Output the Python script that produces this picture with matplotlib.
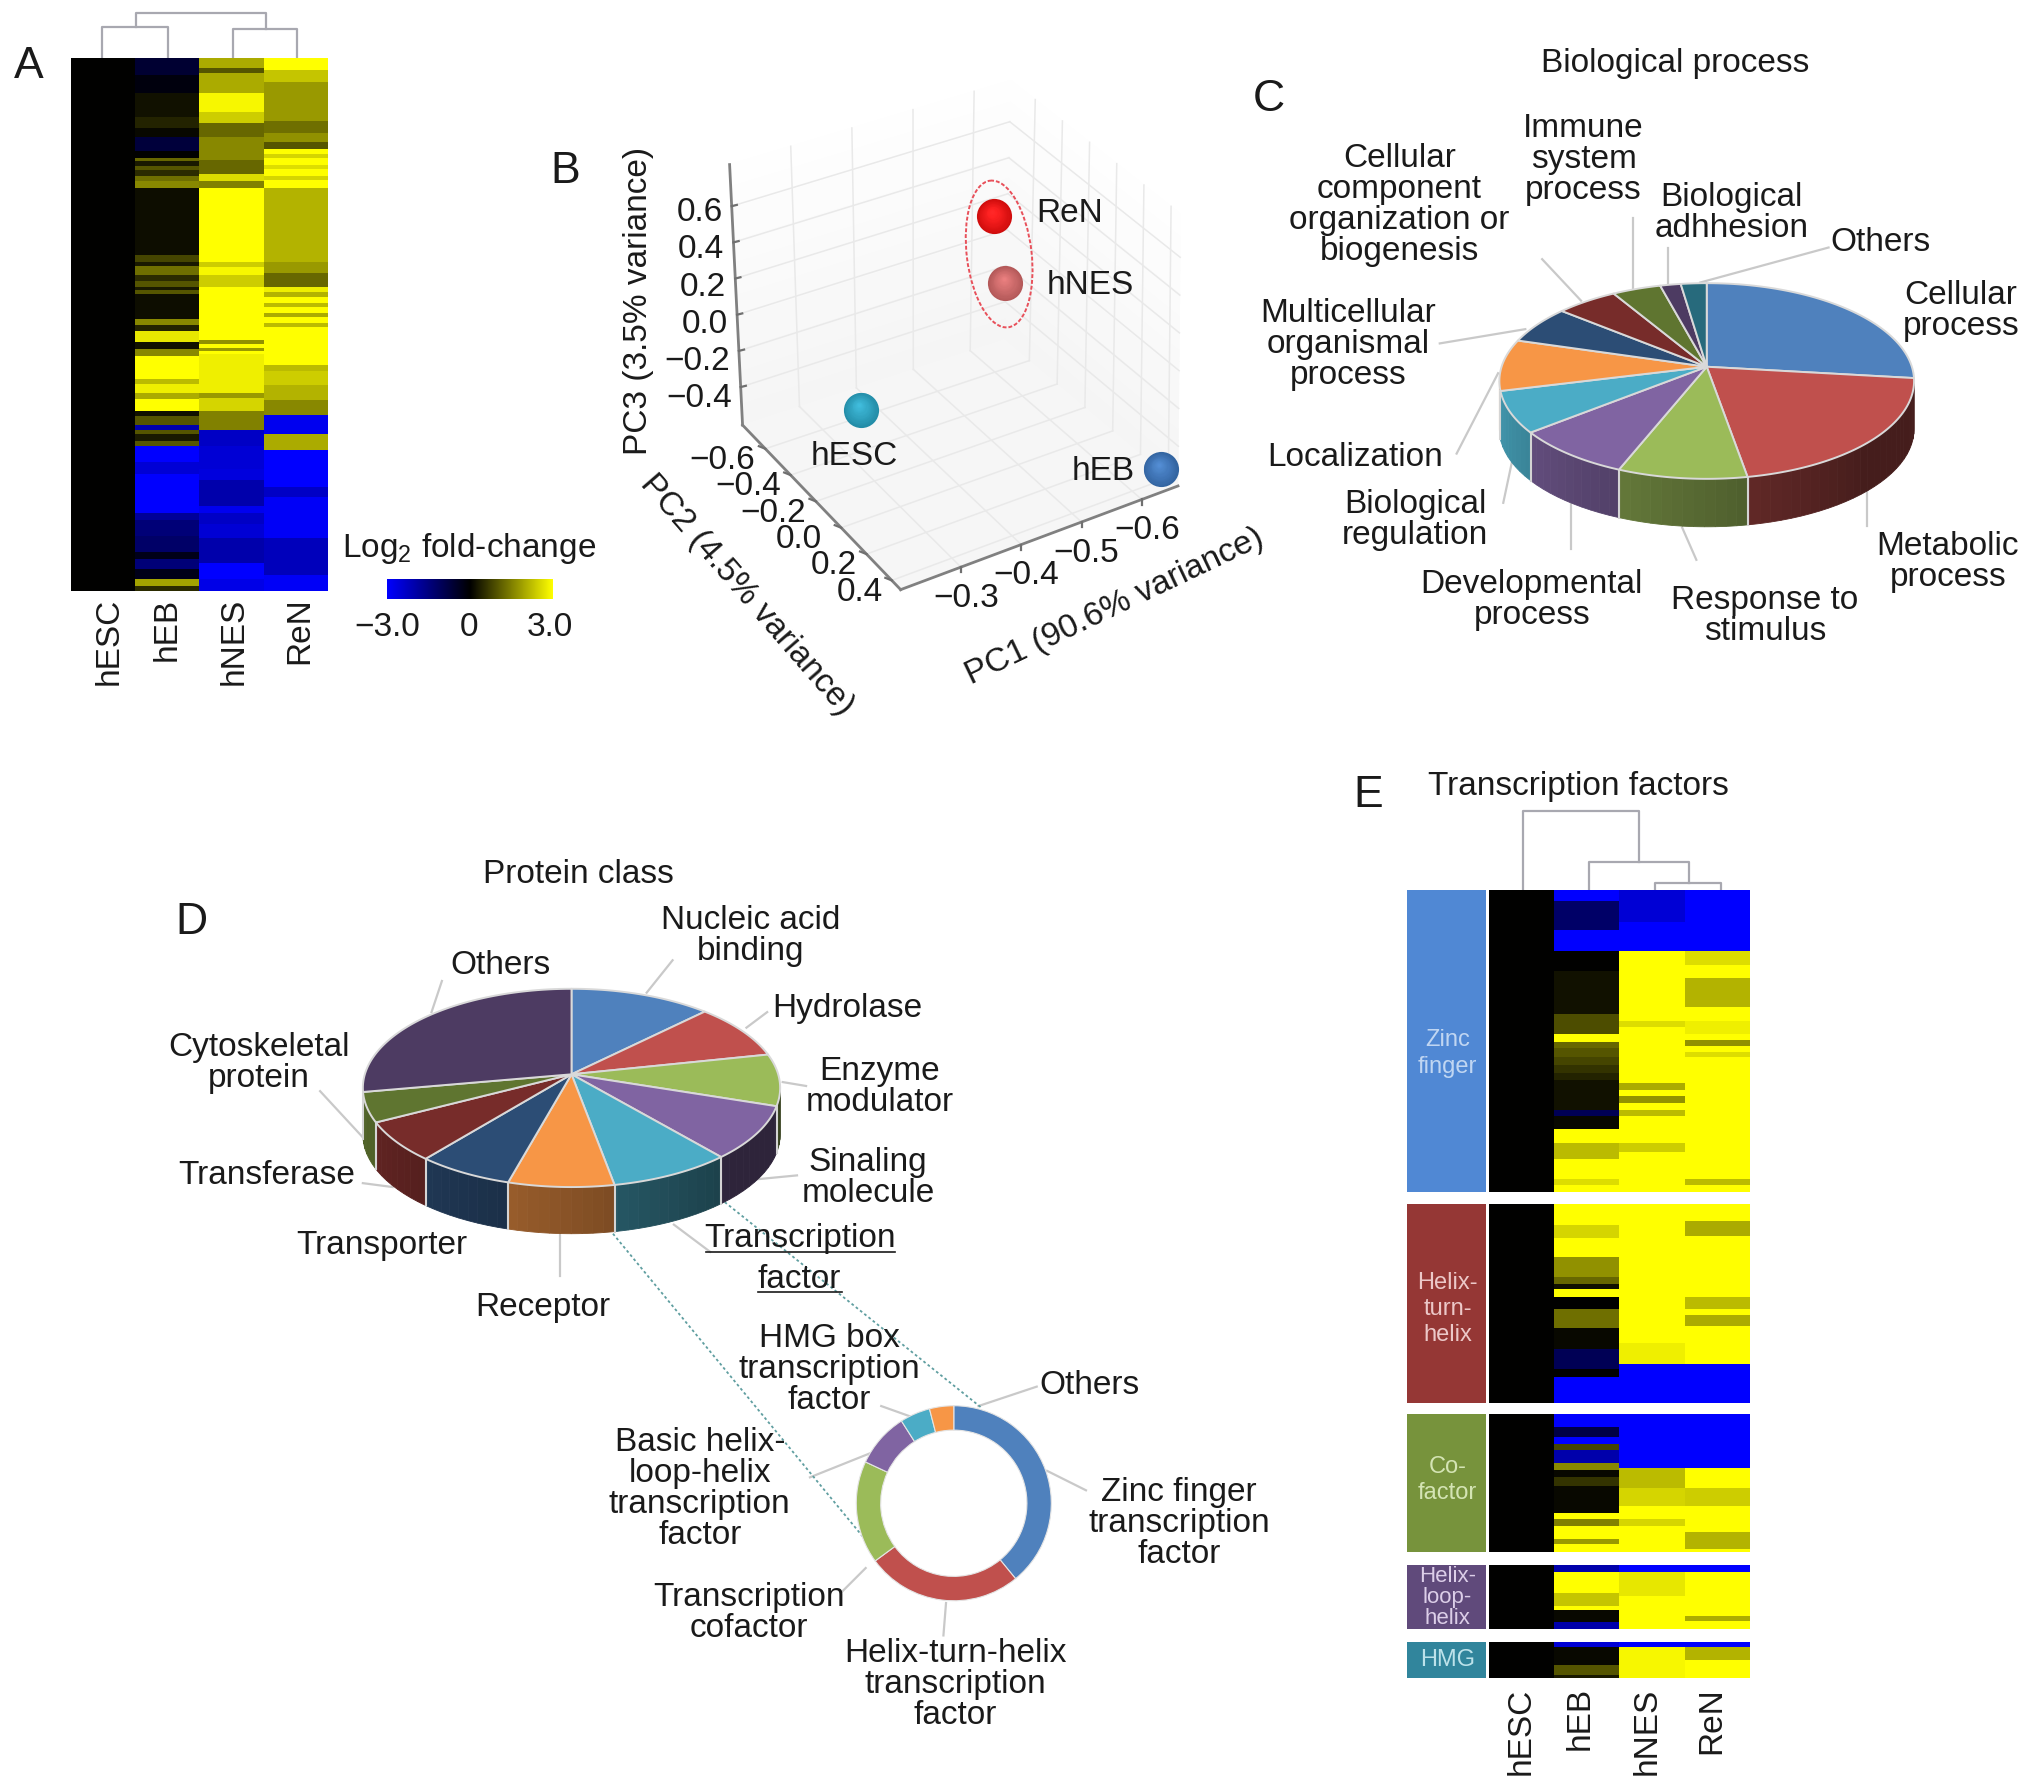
import numpy as np
import matplotlib
matplotlib.use("Agg")
import matplotlib.pyplot as plt
from matplotlib.colors import LinearSegmentedColormap, to_rgb
from matplotlib.patches import Ellipse

plt.rcParams['font.family'] = ['Liberation Sans', 'DejaVu Sans']
plt.rcParams['mathtext.fontset'] = 'custom'
plt.rcParams['mathtext.rm'] = 'Liberation Sans'
plt.rcParams['mathtext.default'] = 'regular'

W, H = 1568, 1380.5
FS = 24

samples = ["hESC", "hEB", "hNES", "ReN"]

# panel A heatmap, runs of (rows, log2 fold change)
a_hesc = [(1157, 0)]
a_heb = [(37, -0.6), (40, -0.15), (50, 0.2), (25, 0.4), (20, 0.1), (30, -0.7), (15, 0), (7, 1.2), (10, 0.3),
         (10, 1.0), (13, 0.5), (10, 1.3), (15, 1.6), (145, 0.15), (15, 0.8), (10, 0.3), (20, 1.3), (12, 0.5),
         (13, 1.0), (7, 0.3), (8, 1.0), (55, 0.15), (13, 1.6), (12, 0.4), (25, 2.7), (15, 0.2), (15, 1.6),
         (50, 3), (10, 2.2), (20, 2.8), (13, 2.0), (27, 3), (10, 0.2), (20, 1.0), (10, -2), (10, 1.0), (15, 0.3),
         (10, 1.0), (35, -3), (25, -2.5), (85, -3), (15, -1.8), (35, -1.4), (35, -1.2), (15, -0.3), (23, -1.4),
         (22, -0.3), (15, 1.9), (10, 0.5)]
a_hnes = [(22, 2.0), (10, 1.0), (45, 2.0), (40, 2.9), (25, 2.4), (30, 1.2), (50, 1.6), (30, 1.2), (15, 2.6),
          (15, 1.5), (160, 3), (12, 2.4), (18, 2.9), (25, 2.4), (115, 3), (8, 1.7), (10, 3), (7, 1.8), (5, 3),
          (85, 2.8), (12, 1.8), (28, 2.5), (40, 1.5), (35, -2.3), (50, -2.5), (25, -2.6), (55, -2.0), (15, -2.8),
          (25, -2.3), (30, -2.5), (55, -2.0), (35, -3), (25, -2.7)]
a_ren = [(27, 3), (25, 2.3), (85, 1.8), (25, 1.3), (20, 1.7), (15, 1.0), (12, 3), (8, 2.5), (15, 3), (10, 2.6),
         (15, 3), (8, 2.5), (17, 3), (160, 2.1), (25, 1.8), (30, 1.2), (10, 2.8), (12, 2.1), (12, 3), (10, 2.2),
         (12, 3), (10, 2.0), (12, 3), (8, 2.2), (19, 3), (65, 3), (12, 2.2), (30, 2.4), (33, 2.1), (32, 1.6),
         (43, -2.8), (35, 2.0), (80, -3), (20, -2.3), (90, -2.9), (80, -2.2), (45, -2.9)]

# panel E heatmap groups
e_groups = ["Zinc\nfinger", "Helix-\nturn-\nhelix", "Co-\nfactor", "Helix-\nloop-\nhelix", "HMG"]
e_group_colors = ["#5088d4", "#953735", "#77933c", "#604a7b", "#31859c"]
e_text_colors = ["#c0d6f2", "#ecc8c8", "#d4e4b4", "#dccee8", "#bce2ea"]
e_rows = [458, 305, 212, 97, 57]
e_heb = [
    [(16, -3), (44, -1.2), (33, -3), (30, 0), (65, 0.2), (30, 0.9), (12, 3), (10, 1.2), (14, 1.0), (12, 0.8), (12, 0.6),
     (10, 0.4), (45, 0.2), (10, -1), (20, 0.1), (20, 3), (25, 2.2), (30, 3), (10, 2.6), (10, 3)],
    [(33, 3), (20, 2.5), (30, 3), (30, 1.7), (10, 1.2), (8, 0.2), (12, 3), (18, 0), (30, 1.3), (32, 0.1),
     (30, -1), (12, 0), (40, -3)],
    [(22, -3), (15, -0.8), (10, -3), (10, 0.8), (20, -2), (10, 1.6), (10, 0.1), (15, 0.6), (40, 0.1), (10, 3),
     (10, 1.5), (20, 3), (8, 1.8), (12, 3)],
    [(10, -2), (32, 3), (20, 2.3), (6, 3), (19, 0.1), (10, -2)],
    [(10, -2.5), (27, 0.1), (15, 1.0), (5, 0.3)],
]
e_hnes = [
    [(48, -2.5), (45, -3), (105, 3), (10, 2.6), (85, 3), (10, 2.0), (10, 3), (10, 1.7), (10, 3), (10, 2.2),
     (40, 3), (15, 2.4), (60, 3)],
    [(213, 3), (32, 2.8), (60, -3)],
    [(84, -3), (30, 2.2), (28, 2.5), (20, 3), (10, 2.5), (40, 3)],
    [(10, -3), (37, 2.7), (50, 3)],
    [(10, -3), (47, 2.9)],
]
e_ren = [
    [(93, -3), (20, 2.6), (20, 3), (45, 2.1), (20, 3), (20, 2.8), (10, 3), (8, 1.7), (10, 3), (7, 2.6), (185, 3),
     (10, 2.2), (10, 3)],
    [(28, 3), (23, 2.0), (92, 3), (18, 2.2), (10, 3), (17, 2.0), (57, 3), (60, -3)],
    [(84, -3), (30, 3), (28, 2.4), (40, 3), (25, 2.1), (5, 3)],
    [(10, -3), (67, 3), (8, 2.0), (12, 3)],
    [(10, -3), (19, 2.1), (28, 3)],
]

# pies
bio_names = ["Cellular process", "Metabolic process", "Response to stimulus", "Developmental process",
             "Biological regulation", "Localization", "Multicellular organismal process",
             "Cellular component organization or biogenesis", "Immune system process", "Biological adhhesion",
             "Others"]
bio_share = [24.5, 22.3, 10.1, 9.2, 7.2, 8.4, 5.9, 4.9, 3.8, 1.6, 2.0]
bio_colors = ["#4f81bd", "#c0504d", "#9bbb59", "#8064a2", "#4bacc6", "#f79646", "#2c4d75", "#772c2a", "#5f7530",
              "#4d3b62", "#276a7c"]
prot_names = ["Nucleic acid binding", "Hydrolase", "Enzyme modulator", "Sinaling molecule", "Transcription factor",
              "Receptor", "Transporter", "Transferase", "Cytoskeletal protein", "Others"]
prot_share = [11.0, 8.5, 8.4, 9.3, 9.4, 8.2, 7.4, 7.0, 5.0, 25.6]
prot_colors = ["#4f81bd", "#c0504d", "#9bbb59", "#8064a2", "#4bacc6", "#f79646", "#2c4d75", "#772c2a", "#5f7530",
               "#4d3b62"]
tf_share = [39.0, 25.8, 17.0, 9.0, 5.0, 4.0]
tf_colors = ["#4f81bd", "#c0504d", "#9bbb59", "#8064a2", "#4bacc6", "#f79646"]

# PCA scores, (PC1, PC2, PC3)
pca_names = ["ReN", "hNES", "hESC", "hEB"]
pca_points = [(-0.533, -0.335, 0.475), (-0.510, -0.148, 0.25), (-0.30, -0.30, -0.30), (-0.647, 0.40, -0.55)]
pca_colors = ["#f81010", "#d66a6a", "#2aa8c8", "#3d78c0"]
pc1_ticks = [-0.3, -0.4, -0.5, -0.6]
pc2_ticks = [-0.6, -0.4, -0.2, 0.0, 0.2, 0.4]
pc3_ticks = [0.6, 0.4, 0.2, 0.0, -0.2, -0.4]

cmap = LinearSegmentedColormap.from_list("byk", ["#0000ff", "#000000", "#ffff00"])

fig = plt.figure(figsize=(20.32, 17.89), dpi=100)
ax = fig.add_axes([0, 0, 1, 1])
ax.set_xlim(0, W)
ax.set_ylim(H, 0)
ax.axis("off")


def sub_axes(x0, y0, x1, y1):
    a = fig.add_axes([x0 / W, 1 - y1 / H, (x1 - x0) / W, (y1 - y0) / H])
    a.axis("off")
    return a


def expand(runs, n):
    col = np.concatenate([np.full(c, v, dtype=float) for c, v in runs])
    if len(col) < n:
        col = np.concatenate([col, np.full(n - len(col), col[-1])])
    return col[:n]


def heat(box, cols, n):
    a = sub_axes(*box)
    m = np.column_stack([expand(c, n) for c in cols])
    a.imshow(m, aspect="auto", cmap=cmap, vmin=-3, vmax=3, interpolation="nearest")


def label(x, y, s, size=FS, **kw):
    kw.setdefault("ha", "center")
    kw.setdefault("va", "center")
    kw.setdefault("linespacing", 1.0)
    kw.setdefault("color", "#1a1a1a")
    if kw["va"] == "center":
        y = y + 4
    return ax.text(x, y, s, fontsize=size, **kw)


def leader(x0, y0, x1, y1):
    ax.plot([x0, x1], [y0, y1], color="#c9c9c9", lw=1.6, zorder=1)


def bracket(x0, x1, top, y0, y1):
    ax.plot([x0, x0, x1, x1], [y0, top, top, y1], color="#a8a8b0", lw=1.6)


def side_shade(t):
    return np.interp(t, [130, 260], [0.36, 0.85])


def pie3d(shares, colors, cx, cy, apex, a, b, depth):
    edges = np.cumsum([0] + list(shares)) / sum(shares) * 360
    px = lambda t: cx + a * np.sin(np.radians(t))
    py = lambda t: cy - b * np.cos(np.radians(t))
    # side first, then top
    for i, c in enumerate(colors):
        t0, t1 = max(edges[i], 90), min(edges[i + 1], 270)
        if t1 <= t0:
            continue
        steps = np.arange(t0, t1, 3.0)
        steps = np.append(steps, t1)
        for s0, s1 in zip(steps[:-1], steps[1:]):
            ts = np.linspace(s0, s1, 4)
            col = np.array(to_rgb(c)) * side_shade((s0 + s1) / 2)
            ax.fill(np.r_[px(ts), px(ts[::-1])], np.r_[py(ts), py(ts[::-1]) + depth], color=col, lw=0.6, zorder=2)
    for e in edges:
        if 90 < e < 270:
            ax.plot([px(e), px(e)], [py(e), py(e) + depth], color="#d4d4d4", lw=1.5, zorder=3)
    for i, c in enumerate(colors):
        ts = np.linspace(edges[i], edges[i + 1], 60)
        ax.fill(np.r_[cx, px(ts)], np.r_[apex, py(ts)], facecolor=c, edgecolor="#d9d9d9", lw=1.4, zorder=4,
                joinstyle="round")


# ---------- A
bracket(79, 130, 21, 45, 45)
bracket(180, 229, 22, 45, 45)
bracket(105, 205, 10, 21, 22)
heat((55, 45, 253, 456), [a_hesc, a_heb, a_hnes, a_ren], 1157)
for x, s in zip([84, 129, 181, 231], samples):
    label(x, 461, s, rotation=90, va="top")
label(22, 47, "A", size=32)
label(362, 419, r"Log$_2$ fold-change")
cb = sub_axes(299, 447, 427, 462)
cb.imshow(np.linspace(-3, 3, 256)[None, :], aspect="auto", cmap=cmap, vmin=-3, vmax=3)
for x, s in zip([299, 362, 424], ["\u22123.0", "0", "3.0"]):
    label(x, 480, s)

# ---------- B
label(436, 128, "B", size=32)
floor = {"fr": (695, 455), "rt": (909, 375), "bk": (775, 262), "lf": (573, 328)}
roof = {"fr": (699, 228), "rt": (911, 165), "bk": (780, 62), "lf": (563, 127)}
pc1_lim = (-0.2, -0.66)
pc2_lim = (-0.78, 0.47)
pc3_lim = (-0.61, 0.83)


def project(p1, p2, p3):
    u = (p1 - pc1_lim[0]) / (pc1_lim[1] - pc1_lim[0])
    v = (p2 - pc2_lim[0]) / (pc2_lim[1] - pc2_lim[0])
    w = (p3 - pc3_lim[0]) / (pc3_lim[1] - pc3_lim[0])
    out = []
    for k in (0, 1):
        lo = (1 - u) * (v * floor["fr"][k] + (1 - v) * floor["lf"][k]) + u * (v * floor["rt"][k] + (1 - v) * floor["bk"][k])
        hi = (1 - u) * (v * roof["fr"][k] + (1 - v) * roof["lf"][k]) + u * (v * roof["rt"][k] + (1 - v) * roof["bk"][k])
        out.append((1 - w) * lo + w * hi)
    return out


def plane_line(a, b, n=2):
    pts = [project(*(np.array(a) + (np.array(b) - np.array(a)) * t)) for t in np.linspace(0, 1, n)]
    return [p[0] for p in pts], [p[1] for p in pts]


p1a, p1b = pc1_lim
p2a, p2b = pc2_lim
p3a, p3b = pc3_lim
# walls fade out to white at the top
zs = np.linspace(p3a, p3b, 25)
for z0, z1 in zip(zs[:-1], zs[1:]):
    g = np.interp((z0 - p3a) / (p3b - p3a), [0, 1], [0.96, 0.998])
    for a0, a1 in [((p1a, p2a), (p1b, p2a)), ((p1b, p2a), (p1b, p2b))]:
        q = [project(a0[0], a0[1], z0), project(a1[0], a1[1], z0), project(a1[0], a1[1], z1), project(a0[0], a0[1], z1)]
        ax.fill([c[0] for c in q], [c[1] for c in q], color=(g, g, g), lw=0.4, zorder=0)
q = [project(p1a, p2a, p3a), project(p1b, p2a, p3a), project(p1b, p2b, p3a), project(p1a, p2b, p3a)]
ax.fill([c[0] for c in q], [c[1] for c in q], color="#f6f6f6", lw=0, zorder=0)
grid = dict(color="#e9e9e9", lw=1.1, zorder=0.5)
for t in pc1_ticks:
    ax.plot(*plane_line((t, p2a, p3a), (t, p2b, p3a)), **grid)
    ax.plot(*plane_line((t, p2a, p3a), (t, p2a, p3b)), **grid)
for t in pc2_ticks:
    ax.plot(*plane_line((p1a, t, p3a), (p1b, t, p3a)), **grid)
    ax.plot(*plane_line((p1b, t, p3a), (p1b, t, p3b)), **grid)
for t in pc3_ticks:
    ax.plot(*plane_line((p1a, p2a, t), (p1b, p2a, t)), **grid)
    ax.plot(*plane_line((p1b, p2a, t), (p1b, p2b, t)), **grid)
spine = dict(color="#808080", lw=2.0, zorder=1)
ax.plot(*plane_line((p1a, p2a, p3a), (p1a, p2a, p3b)), **spine)
ax.plot(*plane_line((p1a, p2a, p3a), (p1a, p2b, p3a)), **spine)
ax.plot(*plane_line((p1a, p2b, p3a), (p1b, p2b, p3a)), **spine)
for t in pc3_ticks:
    x, y = project(p1a, p2a, t)
    ax.plot([x, x + 4], [y, y - 1], color="#707070", lw=1.6)
    label(x - 7, y + 1 + (0.6 - t) * 4, f"{t:.1f}".replace("-", "\u2212"), ha="right")
for t in pc2_ticks:
    x, y = project(p1a, t, p3a)
    ax.plot([x, x - 5], [y, y - 2], color="#707070", lw=1.6)
    dx = -25 if t > 0.1 else -33
    label(x + dx, y + 5, f"{t:.1f}".replace("-", "\u2212"))
for t in pc1_ticks:
    x, y = project(t, p2b, p3a)
    ax.plot([x, x], [y, y + 4], color="#707070", lw=1.6)
    label(x + 4, y + 20, f"{t:.1f}".replace("-", "\u2212"))
label(493, 228, "PC3 (3.5% variance)", rotation=90)
label(576, 455, "PC2 (4.5% variance)", rotation=-49, rotation_mode="anchor")
label(860, 464, "PC1 (90.6% variance)", rotation=25.5, rotation_mode="anchor")
ax.add_patch(Ellipse((771, 196), 50, 114, angle=-7, fill=False, ec="#e8505a", lw=1.4, ls=(0, (2, 1)), zorder=5))
for p, c in zip(pca_points, pca_colors):
    x, y = project(*p)
    base = np.array(to_rgb(c))
    for f in np.linspace(1, 0.1, 14):
        col = np.clip(base * (0.84 + 0.16 * (1 - f)) + (1 - f) * 0.10, 0, 1)
        ax.scatter(x - (1 - f) * 1.5, y - (1 - f) * 4, s=640 * f ** 2, color=col, lw=0, zorder=6)
for s, (x, y) in zip(pca_names, [(825, 161), (841, 216), (659, 348), (851, 360)]):
    label(x, y, s)

# ---------- C
label(979, 73, "C", size=32)
label(1293, 45, "Biological process")
pie3d(bio_share, bio_colors, 1317, 294, 283, 160, 75.5, 37)
c_labels = [(1080, 154, "Cellular\ncomponent\norganization or\nbiogenesis"), (1222, 119, "Immune\nsystem\nprocess"),
            (1336, 160, "Biological\nadhhesion"), (1451, 183, "Others"), (1513, 236, "Cellular\nprocess"),
            (1040, 262, "Multicellular\norganismal\nprocess"), (1046, 349, "Localization"),
            (1092, 397, "Biological\nregulation"), (1182, 459, "Developmental\nprocess"),
            (1362, 471, "Response to\nstimulus"), (1503, 430, "Metabolic\nprocess")]
for x, y, s in c_labels:
    label(x, y, s)
for seg in [(1190, 200, 1220, 232), (1260, 168, 1260, 222), (1287, 191, 1287, 220), (1411, 191, 1312, 218),
            (1111, 265, 1177, 254), (1124, 350, 1156, 288), (1160, 388, 1167, 355), (1212, 424, 1212, 388),
            (1309, 432, 1298, 407), (1441, 406, 1441, 378)]:
    leader(*seg)

# ---------- D
label(148, 708, "D", size=32)
label(446, 671, "Protein class")
pie3d(prot_share, prot_colors, 441, 839.5, 829, 161, 76.5, 36)
d_labels = [(579, 718, "Nucleic acid\nbinding"), (654, 774, "Hydrolase"), (679, 835, "Enzyme\nmodulator"),
            (670, 905, "Sinaling\nmolecule"), (200, 816, "Cytoskeletal\nprotein"), (386, 741, "Others"),
            (206, 903, "Transferase"), (295, 957, "Transporter"), (419, 1005, "Receptor"),
            (617, 952, "Transcription"), (617, 983, "factor"),
            (640, 1053, "HMG box\ntranscription\nfactor"), (841, 1065, "Others"),
            (540, 1145, "Basic helix-\nloop-helix\ntranscription\nfactor"),
            (910, 1172, "Zinc finger\ntranscription\nfactor"), (578, 1241, "Transcription\ncofactor"),
            (737, 1296, "Helix-turn-helix\ntranscription\nfactor")]
for x, y, s in d_labels:
    label(x, y, s)
ax.plot([545, 691], [966, 966], color="#1a1a1a", lw=1.2)
ax.plot([585, 650], [997, 997], color="#1a1a1a", lw=1.2)
for seg in [(519, 741, 499, 766), (592, 781, 576, 793), (622, 838, 604, 835), (615, 907, 584, 910), (341, 757, 333, 781),
            (247, 842, 284, 882), (280, 913, 303, 916), (432, 950, 432, 985), (520, 945, 548, 966),
            (800, 1070, 755, 1085), (680, 1085, 708, 1095), (625, 1140, 680, 1118), (838, 1150, 808, 1135),
            (650, 1228, 668, 1210), (728, 1262, 730, 1237)]:
    leader(*seg)
ax.plot([473, 666], [952, 1186], color="#5f9ea0", lw=1.3, ls=(0, (1.5, 1.5)), zorder=1)
ax.plot([556, 757], [925, 1086], color="#5f9ea0", lw=1.3, ls=(0, (1.5, 1.5)), zorder=1)
donut = sub_axes(660, 1084, 812, 1236)
donut.pie(tf_share, colors=tf_colors, startangle=90, counterclock=False, radius=1,
          wedgeprops=dict(width=0.25, edgecolor="#e4e4e4", linewidth=0.8))
donut.set_xlim(-1.01, 1.01)
donut.set_ylim(-1.01, 1.01)

# ---------- E
label(1056, 610, "E", size=32)
label(1218, 603, "Transcription factors")
bracket(1175, 1265, 626, 687, 665)
bracket(1226, 1303, 665, 687, 681)
bracket(1277, 1328, 681, 687, 687)
e_tops = [687, 929, 1091, 1208, 1267]
e_bots = [920, 1083, 1198, 1257, 1295]
e_text_y = [809, 1006, 1138, 1229, 1277]
for i in range(5):
    n = e_rows[i]
    ax.fill([1086, 1147, 1147, 1086], [e_tops[i], e_tops[i], e_bots[i], e_bots[i]], color=e_group_colors[i], lw=0)
    label(1117, e_text_y[i], e_groups[i], size=17 if i != 3 else 16, color=e_text_colors[i], linespacing=1.25 if i != 3 else 1.0)
    heat((1149, e_tops[i], 1350, e_bots[i]), [[(n, 0)], e_heb[i], e_hnes[i], e_ren[i]], n)
for x, s in zip([1174, 1219, 1271, 1321], samples):
    label(x, 1302, s, rotation=90, va="top")

fig.savefig("out.png", dpi=100)
